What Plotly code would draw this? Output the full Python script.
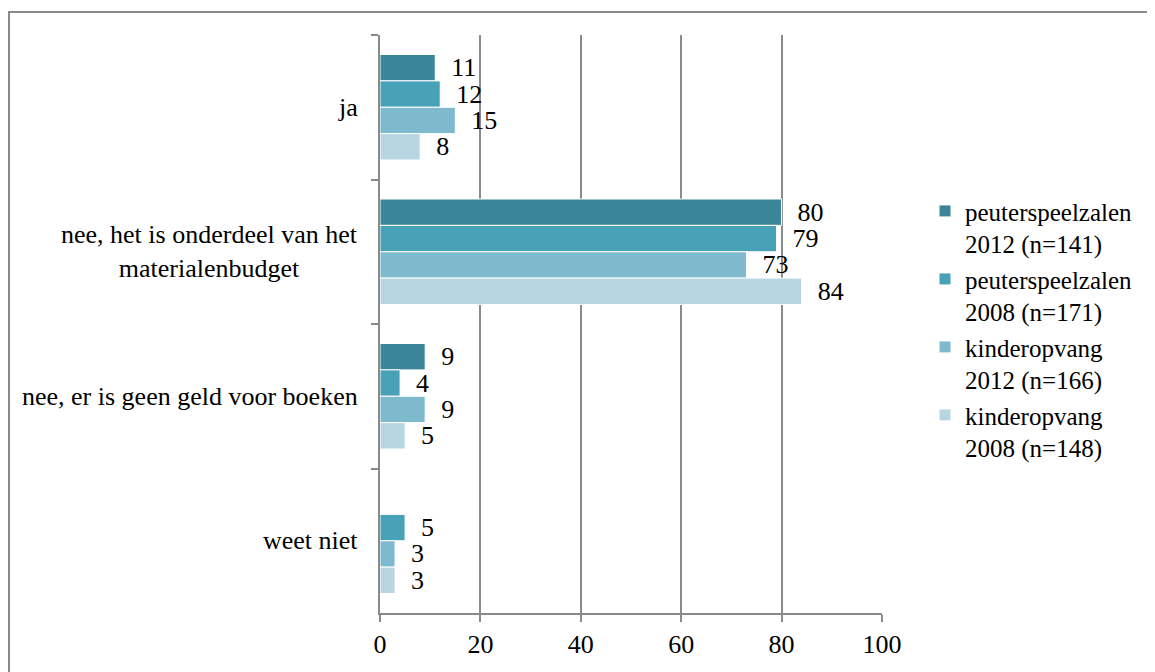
import plotly.graph_objects as go

categories = ["ja", "nee, het is onderdeel van het<br>materialenbudget",
              "nee, er is geen geld voor boeken", "weet niet"]
series_names = ["peuterspeelzalen<br>2012 (n=141)", "peuterspeelzalen<br>2008 (n=171)",
                "kinderopvang<br>2012 (n=166)", "kinderopvang<br>2008 (n=148)"]
ps2012 = [11, 80, 9, None]
ps2008 = [12, 79, 4, 5]
ko2012 = [15, 73, 9, 3]
ko2008 = [8, 84, 5, 3]
colors = ["#3A8598", "#47A1B7", "#7EBACE", "#B7D6E1"]
x_ticks = [0, 20, 40, 60, 80, 100]

FONT = "Liberation Serif"
FS = 26
GRAY = "#8a8a8a"

fig = go.Figure()
for name, vals, col in zip(series_names, [ps2012, ps2008, ko2012, ko2008], colors):
    fig.add_trace(go.Bar(
        y=categories, x=vals, name=name, orientation="h",
        marker=dict(color=col, line=dict(color="white", width=1)),
        text=[("  " + str(v)) if v is not None else "" for v in vals],
        textposition="outside", constraintext="none", cliponaxis=False,
        textfont=dict(family=FONT, size=FS, color="black"),
        legendgroup=name,
    ))

for c in categories:
    fig.add_annotation(x=0, xref="paper", y=c, yref="y", text=c, showarrow=False,
                       xanchor="right", yanchor="middle", align="center", xshift=-20,
                       font=dict(family=FONT, size=FS, color="black"))

fig.add_shape(type="rect", xref="paper", yref="paper", x0=-0.739, x1=1.6, y0=-0.2, y1=1.0398,
              line=dict(color=GRAY, width=2), fillcolor="rgba(0,0,0,0)", layer="below")

fig.update_layout(
    width=1155, height=672,
    margin=dict(l=372, r=281, t=27, b=67),
    paper_bgcolor="white", plot_bgcolor="white",
    barmode="group", bargap=0.27, bargroupgap=0,
    font=dict(family=FONT, size=FS, color="black"),
    showlegend=True,
    legend=dict(x=1.0857, y=0.735, xanchor="left", yanchor="top", traceorder="normal",
                valign="top", tracegroupgap=7, itemwidth=30,
                font=dict(family=FONT, size=25, color="black")),
)
fig.update_xaxes(range=[0, 100], tickvals=x_ticks, ticks="outside", ticklen=7,
                 tickcolor=GRAY, tickwidth=2, showgrid=True, gridcolor=GRAY, gridwidth=2,
                 showline=True, linecolor=GRAY, linewidth=2, zeroline=False,
                 tickfont=dict(family=FONT, size=FS, color="black"))
fig.update_yaxes(autorange="reversed", showticklabels=False, tickson="boundaries",
                 ticks="outside", ticklen=7, tickcolor=GRAY, tickwidth=2,
                 showline=True, linecolor=GRAY, linewidth=2, showgrid=False)

fig.write_html("out.html")
